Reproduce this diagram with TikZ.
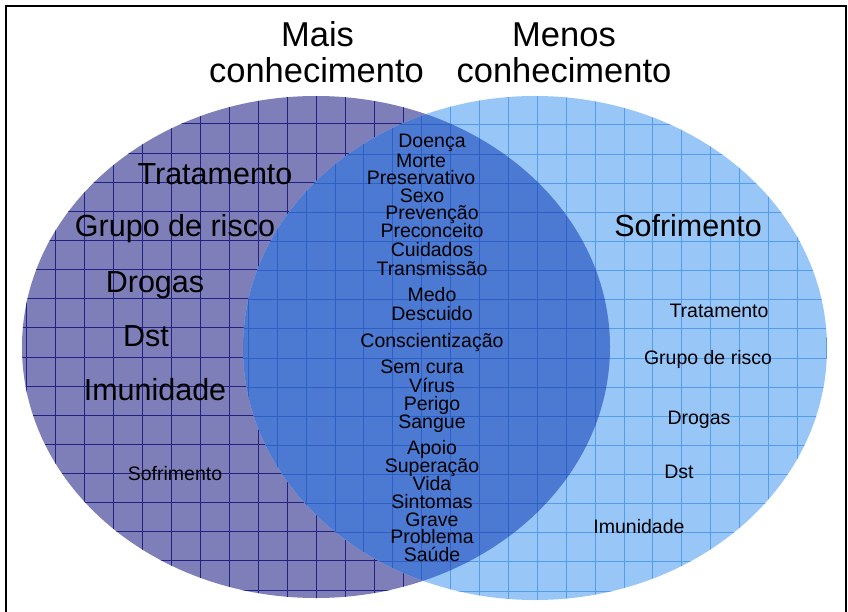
\documentclass[tikz,border=0pt]{standalone}
\usepackage{fontspec}
\setmainfont{Liberation Sans}
\definecolor{leftfill}{RGB}{126,126,184}
\definecolor{leftgrid}{RGB}{34,34,132}
\definecolor{rightfill}{RGB}{152,198,246}
\definecolor{rightgrid}{RGB}{84,156,238}
\definecolor{overfill}{RGB}{76,122,210}
\definecolor{overgrid}{RGB}{44,96,198}
\begin{document}
\begin{tikzpicture}[x=1pt,y=-1pt,
  big/.style={font=\fontsize{30.5}{30}\selectfont, anchor=base, inner sep=0pt},
  small/.style={font=\fontsize{19.5}{20}\selectfont, anchor=base, inner sep=0pt},
  titletext/.style={font=\fontsize{34.5}{34}\selectfont, anchor=base, inner sep=0pt},
  gridl/.style={line width=0.75pt}]
\useasboundingbox (0,0) rectangle (848,612);
\fill[white] (0,0) rectangle (848,612);
% left ellipse
\begin{scope}
  \clip (316,347) ellipse [x radius=294pt, y radius=251pt];
  \fill[leftfill] (0,0) rectangle (848,612);
  \foreach \k in {-2,...,20} \draw[gridl,leftgrid] ({55+29*\k},90) -- ({55+29*\k},610);
  \foreach \k in {-3,...,16} \draw[gridl,leftgrid] (15,{153+29.13*\k}) -- (620,{153+29.13*\k});
\end{scope}
% right ellipse
\begin{scope}
  \clip (535,348) ellipse [x radius=292pt, y radius=252pt];
  \fill[rightfill] (0,0) rectangle (848,612);
  \foreach \k in {-13,...,9} \draw[gridl,rightgrid] ({595+28.9*\k},90) -- ({595+28.9*\k},610);
  \foreach \k in {-3,...,16} \draw[gridl,rightgrid] (230,{154+29.13*\k}) -- (840,{154+29.13*\k});
\end{scope}
% overlap
\begin{scope}
  \clip (316,347) ellipse [x radius=294pt, y radius=251pt];
  \clip (535,348) ellipse [x radius=292pt, y radius=252pt];
  \fill[overfill] (0,0) rectangle (848,612);
  \foreach \k in {-13,...,9} \draw[gridl,overgrid] ({595+28.9*\k},90) -- ({595+28.9*\k},610);
  \foreach \k in {-3,...,16} \draw[gridl,overgrid] (230,{154+29.13*\k}) -- (840,{154+29.13*\k});
\end{scope}
% frame
\draw[line width=2pt] (6,612) -- (6,6) -- (846,6) -- (846,612);
% titles
\node[titletext] (t1) at (317.5,47) {Mais};
\node[titletext] (t2) at (316.5,83) {conhecimento};
\node[titletext] (t3) at (564,47) {Menos};
\node[titletext] (t4) at (564,83) {conhecimento};
% left words
\node[big] (l1) at (215,185) {Tratamento};
\node[big] (l2) at (175,237) {Grupo de risco};
\node[big] (l3) at (155,292) {Drogas};
\node[big] (l4) at (146,346) {Dst};
\node[big] (l5) at (155,400) {Imunidade};
\node[small] (l6) at (175,480) {Sofrimento};
% middle words
\node[small] (m1) at (432,148) {Doença};
\node[small] (m2) at (421,168) {Morte};
\node[small] (m3) at (421,185) {Preservativo};
\node[small] (m4) at (422,203) {Sexo};
\node[small] (m5) at (432,220) {Prevenção};
\node[small] (m6) at (432,238) {Preconceito};
\node[small] (m7) at (432,257) {Cuidados};
\node[small] (m8) at (432,275) {Transmissão};
\node[small] (m9) at (432,301) {Medo};
\node[small] (m10) at (432,320) {Descuido};
\node[small] (m11) at (432,347) {Conscientização};
\node[small] (m12) at (422,373) {Sem cura};
\node[small] (m13) at (432,392) {Vírus};
\node[small] (m14) at (432,410) {Perigo};
\node[small] (m15) at (432,428) {Sangue};
\node[small] (m16) at (432,454) {Apoio};
\node[small] (m17) at (432,472) {Superação};
\node[small] (m18) at (432,490) {Vida};
\node[small] (m19) at (432,508) {Sintomas};
\node[small] (m20) at (432,526) {Grave};
\node[small] (m21) at (432,543) {Problema};
\node[small] (m22) at (432,561) {Saúde};
% right words
\node[big] (r1) at (688,237) {Sofrimento};
\node[small] (r2) at (719,317) {Tratamento};
\node[small] (r3) at (708,364) {Grupo de risco};
\node[small] (r4) at (699,424) {Drogas};
\node[small] (r5) at (679,478) {Dst};
\node[small] (r6) at (639,533) {Imunidade};
\end{tikzpicture}
\end{document}
